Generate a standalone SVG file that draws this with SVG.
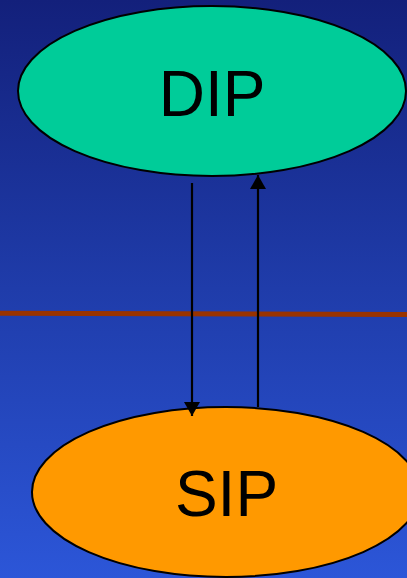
<svg xmlns="http://www.w3.org/2000/svg" width="407" height="578" viewBox="0 0 407 578">
  <defs>
    <linearGradient id="bg" x1="0" y1="0" x2="0" y2="1">
      <stop offset="0" stop-color="#13207b"/>
      <stop offset="0.5" stop-color="#1f3caa"/>
      <stop offset="1" stop-color="#2c56d8"/>
    </linearGradient>
    <marker id="arrow" viewBox="0 0 14 16" refX="14" refY="8" markerWidth="14" markerHeight="16" markerUnits="userSpaceOnUse" orient="auto">
      <path d="M0,0 L14,8 L0,16 Z" fill="#000"/>
    </marker>
  </defs>
  <style>
    .node { stroke: #000; stroke-width: 2; }
    .label { font-family: "Liberation Sans", Arial, sans-serif; font-size: 64px; fill: #000; text-anchor: middle; }
    .edge { stroke: #000; stroke-width: 2.2; fill: none; marker-end: url(#arrow); }
  </style>

  <rect x="0" y="0" width="407" height="578" fill="url(#bg)"/>

  <!-- divider line -->
  <line x1="0" y1="313.3" x2="407" y2="314.6" stroke="#993300" stroke-width="5"/>

  <g id="dip">
    <ellipse class="node" cx="212" cy="91" rx="194" ry="85" fill="#00cc99"/>
    <text class="label" x="212" y="116">DIP</text>
  </g>

  <g id="sip">
    <ellipse class="node" cx="226" cy="492" rx="194" ry="85" fill="#ff9900"/>
    <text class="label" x="226.5" y="516">SIP</text>
  </g>

  <g id="connectors">
    <line class="edge" x1="192" y1="183" x2="192" y2="416"/>
    <line class="edge" x1="258" y1="407" x2="258" y2="175"/>
  </g>
</svg>
